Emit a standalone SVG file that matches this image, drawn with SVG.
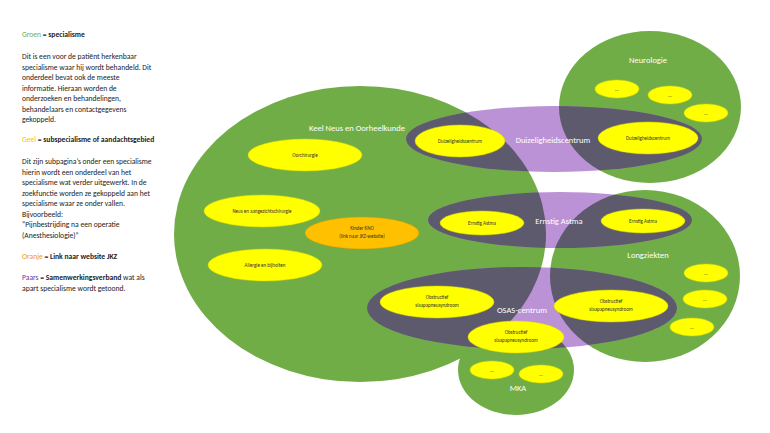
<svg xmlns="http://www.w3.org/2000/svg" width="770" height="433" viewBox="0 0 770 433">
<style>
text{font-family:Calibri,Carlito,"Liberation Sans",Arial,sans-serif}
.lt{font-size:7.6px;fill:#222}
.b{font-weight:bold}
.g{fill:#70ad47}.y{fill:#ffff00;stroke:#d8d800;stroke-width:0.5}
.o{fill:#ffc000;stroke:#d09a00;stroke-width:0.5}
.gr{fill:#5c5a6c}
.p{fill:#b07fd0;opacity:0.85}
.wl{fill:#fff;font-size:8.5px;text-anchor:middle}
.sl{fill:#333;font-size:5px;text-anchor:middle}
.d{fill:#333;font-size:5px;text-anchor:middle}
</style>
<defs>
<clipPath id="cD"><ellipse cx="554" cy="139" rx="148" ry="33"/></clipPath>
<clipPath id="cA"><ellipse cx="560" cy="220" rx="132" ry="28"/></clipPath>
<clipPath id="cO"><ellipse cx="522" cy="308" rx="155" ry="41"/></clipPath>
<g id="greens">
<ellipse cx="360" cy="234" rx="186" ry="148"/>
<ellipse cx="650" cy="107" rx="91" ry="76"/>
<ellipse cx="645" cy="276" rx="95" ry="86"/>
<ellipse cx="516" cy="370" rx="58" ry="45"/>
</g>
</defs>
<rect width="770" height="433" fill="#fff"/>
<g id="legend">
<text class="lt" x="22" y="37"><tspan fill="#70ad47">Groen</tspan><tspan class="b"> = specialisme</tspan></text>
<text class="lt" x="22" y="59">Dit is een voor de patiënt herkenbaar</text>
<text class="lt" x="22" y="69.5">specialisme waar hij wordt behandeld. Dit</text>
<text class="lt" x="22" y="80">onderdeel bevat ook de meeste</text>
<text class="lt" x="22" y="90.5">informatie. Hieraan worden de</text>
<text class="lt" x="22" y="101">onderzoeken en behandelingen,</text>
<text class="lt" x="22" y="111.5">behandelaars en contactgegevens</text>
<text class="lt" x="22" y="122">gekoppeld.</text>
<text class="lt" x="22" y="142"><tspan fill="#ffc000">Geel</tspan><tspan class="b"> = subspecialisme of aandachtsgebied</tspan></text>
<text class="lt" x="22" y="164">Dit zijn subpagina’s onder een specialisme</text>
<text class="lt" x="22" y="174.5">hierin wordt een onderdeel van het</text>
<text class="lt" x="22" y="185">specialisme wat verder uitgewerkt.  In de</text>
<text class="lt" x="22" y="195.5">zoekfunctie worden ze gekoppeld aan het</text>
<text class="lt" x="22" y="206">specialisme waar ze onder vallen.</text>
<text class="lt" x="22" y="216.5">Bijvoorbeeld:</text>
<text class="lt" x="22" y="227">“Pijnbestrijding na een operatie</text>
<text class="lt" x="22" y="237.5">(Anesthesiologie)”</text>
<text class="lt" x="22" y="259"><tspan fill="#ed9b00">Oranje</tspan><tspan class="b"> = Link naar website JKZ</tspan></text>
<text class="lt" x="22" y="280"><tspan fill="#7030a0">Paars</tspan><tspan class="b"> = Samenwerkingsverband</tspan> wat als</text>
<text class="lt" x="22" y="290.5">apart specialisme wordt getoond.</text>
</g>
<g id="KNO"><ellipse class="g" cx="360" cy="234" rx="186" ry="148"/></g>
<g id="Neurologie"><ellipse class="g" cx="650" cy="107" rx="91" ry="76"/></g>
<g id="Longziekten"><ellipse class="g" cx="645" cy="276" rx="95" ry="86"/></g>
<g id="MKA"><ellipse class="g" cx="516" cy="370" rx="58" ry="45"/></g>
<g id="Duizeligheid">
<ellipse class="p" cx="554" cy="139" rx="148" ry="33"/>
<g clip-path="url(#cD)" class="gr"><use href="#greens"/></g>
</g>
<g id="Astma">
<ellipse class="p" cx="560" cy="220" rx="132" ry="28"/>
<g clip-path="url(#cA)" class="gr"><use href="#greens"/></g>
</g>
<g id="OSAS">
<ellipse class="p" cx="522" cy="308" rx="155" ry="41"/>
<g clip-path="url(#cO)" class="gr"><use href="#greens"/></g>
</g>
<g id="labels">
<text class="wl" x="357" y="131">Keel Neus en Oorheelkunde</text>
<text class="wl" x="648" y="63">Neurologie</text>
<text class="wl" x="553" y="143">Duizeligheidscentrum</text>
<text class="wl" x="559" y="224">Ernstig Astma</text>
<text class="wl" x="648" y="258">Longziekten</text>
<text class="wl" x="522" y="313">OSAS-centrum</text>
<text class="wl" x="518" y="391">MKA</text>
</g>
<g id="subs">
<ellipse class="y" cx="305" cy="155" rx="57" ry="16"/><text class="sl" x="305" y="157">Oorchirurgie</text>
<ellipse class="y" cx="262" cy="211" rx="58" ry="16"/><text class="sl" x="262" y="213">Neus en aangezichtschirurgie</text>
<ellipse class="o" cx="362" cy="233" rx="57" ry="16"/><text class="sl" x="362" y="230">Kinder KNO</text><text class="sl" x="362" y="238">(link naar JKZ-website)</text>
<ellipse class="y" cx="460" cy="141" rx="45" ry="16"/><text class="sl" x="460" y="143">Duizeligheidscentrum</text>
<ellipse class="y" cx="265" cy="265" rx="57" ry="16"/><text class="sl" x="265" y="267">Allergie en bijholten</text>
<ellipse class="y" cx="648" cy="138" rx="50" ry="16"/><text class="sl" x="648" y="140">Duizeligheidscentrum</text>
<ellipse class="y" cx="482" cy="223" rx="42" ry="12"/><text class="sl" x="482" y="225">Ernstig Astma</text>
<ellipse class="y" cx="643" cy="221" rx="42" ry="12"/><text class="sl" x="643" y="223">Ernstig Astma</text>
<ellipse class="y" cx="437" cy="302" rx="57" ry="16"/><text class="sl" x="437" y="299">Obstructief</text><text class="sl" x="437" y="307">slaapapneusyndroom</text>
<ellipse class="y" cx="611" cy="306" rx="57" ry="16"/><text class="sl" x="611" y="303">Obstructief</text><text class="sl" x="611" y="311">slaapapneusyndroom</text>
<ellipse class="y" cx="516" cy="337" rx="48" ry="16"/><text class="sl" x="516" y="334">Obstructief</text><text class="sl" x="516" y="342">slaapapneusyndroom</text>
<ellipse class="y" cx="617" cy="89" rx="22" ry="9"/><text class="d" x="617" y="91">...</text>
<ellipse class="y" cx="670" cy="95" rx="22" ry="9"/><text class="d" x="670" y="97">...</text>
<ellipse class="y" cx="706" cy="113" rx="22" ry="9"/><text class="d" x="706" y="115">...</text>
<ellipse class="y" cx="706" cy="273" rx="22" ry="9"/><text class="d" x="706" y="275">...</text>
<ellipse class="y" cx="705" cy="299" rx="22" ry="9"/><text class="d" x="705" y="301">...</text>
<ellipse class="y" cx="692" cy="327" rx="22" ry="9"/><text class="d" x="692" y="329">...</text>
<ellipse class="y" cx="492" cy="370" rx="22" ry="9"/><text class="d" x="492" y="372">...</text>
<ellipse class="y" cx="541" cy="374" rx="22" ry="9"/><text class="d" x="541" y="376">...</text>
</g>
<g id="connectors"/>
</svg>
